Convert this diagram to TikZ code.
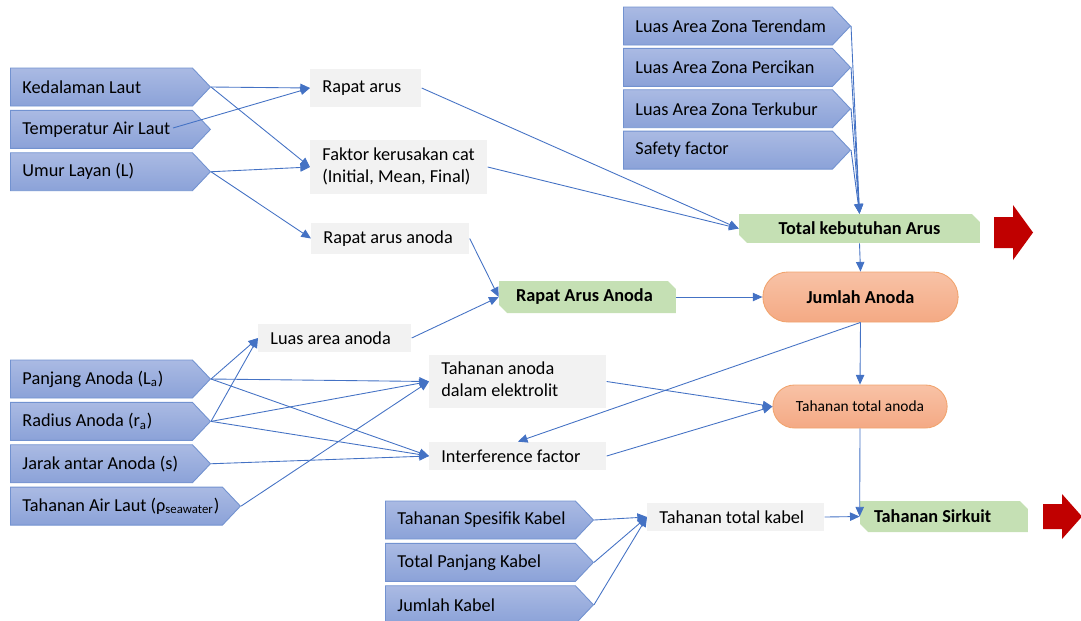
\documentclass[tikz,border=0pt]{standalone}
\usepackage{fontspec}
\setmainfont{Carlito}
\usetikzlibrary{arrows.meta,positioning,shapes.symbols,shapes.misc}

\definecolor{inputtop}{RGB}{170,186,227}
\definecolor{inputbot}{RGB}{139,162,216}
\definecolor{inputline}{RGB}{114,146,208}
\definecolor{procgrey}{RGB}{242,242,242}
\definecolor{resgreen}{RGB}{197,224,180}
\definecolor{calctop}{RGB}{248,194,166}
\definecolor{calcbot}{RGB}{244,169,132}
\definecolor{calcline}{RGB}{241,164,110}
\definecolor{linkblue}{RGB}{68,114,196}
\definecolor{outred}{RGB}{192,0,0}

\begin{document}
\begin{tikzpicture}[x=0.02cm,y=-0.02cm,
  font=\fontsize{10.4}{12.5}\selectfont,
  fixw/.style={execute at begin node={\hbox to #1\bgroup},execute at end node={\hss\egroup}},
  input/.style={signal,signal to=east,signal pointer angle=93,draw=inputline,line width=0.5pt,
                top color=inputtop,bottom color=inputbot,
                minimum height=0.76cm,inner xsep=0.24cm,anchor=west,fixw=#1},
  input/.default=3.16cm,
  proc/.style={rectangle,fill=procgrey,inner xsep=0.24cm,inner ysep=0.1cm,anchor=west,fixw=#1},
  result/.style={chamfered rectangle,chamfered rectangle corners={north east,south west},
                 chamfered rectangle xsep=0.08cm,chamfered rectangle ysep=0.08cm,inner ysep=0.08cm,
                 fill=resgreen,font=\fontsize{10.4}{12.5}\selectfont\bfseries},
  stadium/.style={rounded rectangle,draw=calcline,line width=0.5pt,top color=calctop,bottom color=calcbot},
  link/.style={linkblue,line width=0.5pt,-{Triangle[length=5.5pt,width=4.8pt]}}]
  \useasboundingbox (0,0) rectangle (1081,620);

  % input parameters
  \node[input] (KED) at (10,87) {Kedalaman Laut};
  \node[input,below=0.07cm of KED.south west,anchor=north west] (TEMP) {Temperatur Air Laut};
  \node[input,below=0.07cm of TEMP.south west,anchor=north west] (UMUR) {Umur Layan (L)};
  \coordinate (TEMPEND) at (173,128);

  \node[input] (PANJ) at (10,379) {Panjang Anoda (L\textsubscript{a})};
  \node[input,below=0.07cm of PANJ.south west,anchor=north west] (RAD) {Radius Anoda (r\textsubscript{a})};
  \node[input,below=0.07cm of RAD.south west,anchor=north west] (JARAK) {Jarak antar Anoda (s)};
  \node[input=3.76cm,below=0.07cm of JARAK.south west,anchor=north west] (RHO) {Tahanan Air Laut (ρ\textsubscript{seawater})};

  \node[input=3.70cm] (TEREND) at (623,26) {Luas Area Zona Terendam};
  \node[input=3.70cm,below=0.05cm of TEREND.south west,anchor=north west] (PERCIK) {Luas Area Zona Percikan};
  \node[input=3.70cm,below=0.05cm of PERCIK.south west,anchor=north west] (TERKUB) {Luas Area Zona Terkubur};
  \node[input=3.70cm,below=0.05cm of TERKUB.south west,anchor=north west] (SAFETY) {Safety factor};

  \node[input=3.32cm] (KSPES) at (385,520) {Tahanan Spesifik Kabel};
  \node[input=3.32cm,below=0.07cm of KSPES.south west,anchor=north west] (KPANJ) {Total Panjang Kabel};
  \node[input=3.32cm,below=0.07cm of KPANJ.south west,anchor=north west] (KJUM) {Jumlah Kabel};

  % intermediate values
  \node[proc=1.74cm,minimum height=0.76cm] (RAPAT) at (310,88) {Rapat arus};
  \node[proc=3.06cm,minimum height=0.84cm] (FAKTOR) at (310,167)
    {\begin{tabular}{@{}l@{}}Faktor kerusakan cat\\(Initial, Mean, Final)\end{tabular}};
  \node[proc=2.68cm,minimum height=0.62cm] (RAA) at (311,238.5) {Rapat arus anoda};
  \node[proc=2.58cm,minimum height=0.56cm] (LUAS) at (258,338) {Luas area anoda};
  \node[proc=3.06cm,minimum height=0.9cm] (TAE) at (429,381.5)
    {\begin{tabular}{@{}l@{}}Tahanan anoda\\dalam elektrolit\end{tabular}};
  \node[proc=3.06cm,minimum height=0.56cm] (INTF) at (429,456) {Interference factor};
  \node[proc=3.06cm,minimum height=0.56cm] (TTK) at (647,517) {Tahanan total kabel};

  % results
  \node[result,minimum width=4.82cm,minimum height=0.54cm] (TOTAL) at (859.5,228.5) {Total kebutuhan Arus};
  \node[result,minimum height=0.64cm,inner xsep=0.26cm,fixw=2.86cm] (RAAN) at (587.5,297) {Rapat Arus Anoda};
  \node[result,minimum height=0.62cm,inner xsep=0.2cm,fixw=2.8cm] (SIRKUIT) at (944,516.5) {Tahanan Sirkuit};
  \node[stadium,minimum width=4.14cm,minimum height=1cm,font=\fontsize{10.4}{12.5}\selectfont\bfseries] (JUMLAH) at (860.5,297) {Jumlah Anoda};
  \node[stadium,minimum width=3.72cm,minimum height=0.86cm,font=\fontsize{8.8}{10}\selectfont] (TTA) at (860,406.5) {Tahanan total anoda};

  % output arrows
  \fill[outred] (994,217) -- (1013,217) -- (1013,205) -- (1033,232.5) -- (1013,260) -- (1013,248) -- (994,248) -- cycle;
  \fill[outred] (1043,504) -- (1062,504) -- (1062,494) -- (1082,516.5) -- (1062,539) -- (1062,529) -- (1043,529) -- cycle;

  \path[link]
    (KED.east) edge (RAPAT.west)
    (TEMPEND) edge (RAPAT.west)
    (KED.east) edge (FAKTOR.west)
    (UMUR.east) edge (FAKTOR.west)
    (UMUR.east) edge (RAA.west)
    (RAPAT.east) edge (TOTAL.west)
    (FAKTOR.east) edge (TOTAL.west)
    (TEREND.east) edge (TOTAL.north)
    (PERCIK.east) edge (TOTAL.north)
    (TERKUB.east) edge (TOTAL.north)
    (SAFETY.east) edge (TOTAL.north)
    (RAA.east) edge (RAAN.west)
    (LUAS.east) edge (RAAN.west)
    (RAAN.east) edge (JUMLAH.west)
    (TOTAL.south) edge (JUMLAH.north)
    (JUMLAH.south) edge (TTA.north)
    (JUMLAH.south) edge (INTF.north)
    (PANJ.east) edge (LUAS.west)
    (RAD.east) edge (LUAS.west)
    (PANJ.east) edge (TAE.west)
    (PANJ.east) edge (INTF.west)
    (RAD.east) edge (TAE.west)
    (RAD.east) edge (INTF.west)
    (JARAK.east) edge (INTF.west)
    (RHO.east) edge (TAE.west)
    (TAE.east) edge (TTA.west)
    (INTF.east) edge (TTA.west)
    (TTA.south) edge (SIRKUIT.west)
    (KSPES.east) edge (TTK.west)
    (KPANJ.east) edge (TTK.west)
    (KJUM.east) edge (TTK.west)
    (TTK.east) edge (SIRKUIT.west);
\end{tikzpicture}
\end{document}
